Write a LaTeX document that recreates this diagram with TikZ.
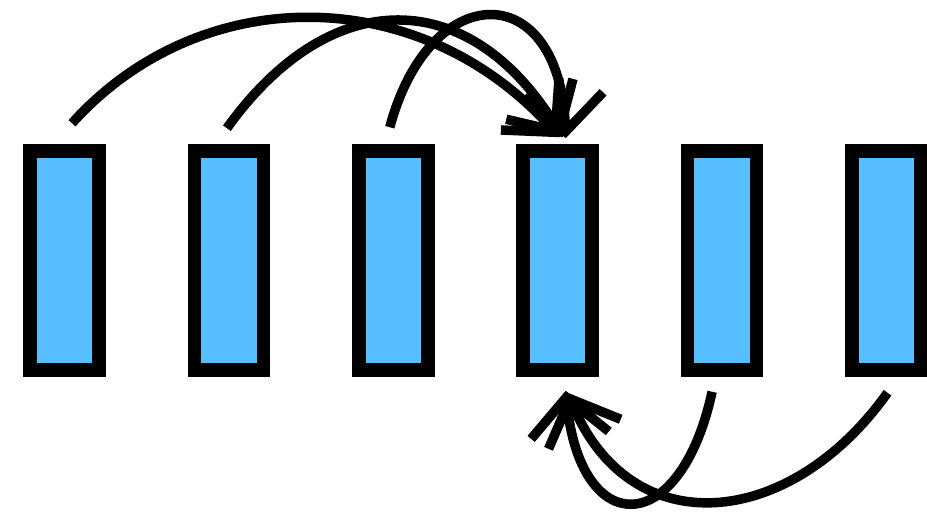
\documentclass[tikz,border=0pt]{standalone}
\usetikzlibrary{arrows.meta}
\definecolor{boxblue}{RGB}{87,191,255}
\tikzset{
  cell/.style={draw=black, fill=boxblue, line width=13.5pt, minimum width=69pt, minimum height=219pt, inner sep=0pt},
  jump/.style={line width=9.5pt, -{Straight Barb[length=38pt, width=78pt]}}
}
\begin{document}
\begin{tikzpicture}[x=1pt, y=-1pt]
    \useasboundingbox (0,0) rectangle (927,515);

    % 数组单元
    \foreach \i in {1,...,6} {
        \node[cell] (r\i) at ({64.5+164.4*(\i-1)}, 260.5) {};
    }

    % 上方跳转
    \draw[jump] ([xshift=7.5pt, yshift=21pt]r1.north) .. controls (200,-19) and (420,-19) .. ([xshift=2pt, yshift=7pt]r4.north);
    \draw[jump] ([xshift=-2pt, yshift=16pt]r2.north) .. controls (330,-16) and (470,-16) .. ([xshift=5pt, yshift=7pt]r4.north);
    \draw[jump] ([xshift=-3.5pt, yshift=17pt]r3.north) .. controls (430,-23) and (560,-23) .. ([xshift=8pt, yshift=6pt]r4.north);

    % 下方跳转
    \draw[jump] ([xshift=-10pt, yshift=-15pt]r5.south) .. controls (680,540) and (580,540) .. ([xshift=8pt, yshift=-14pt]r4.south);
    \draw[jump] ([xshift=1pt, yshift=-16pt]r6.south) .. controls (790,530) and (630,545) .. ([xshift=10pt, yshift=-16pt]r4.south);
\end{tikzpicture}
\end{document}
